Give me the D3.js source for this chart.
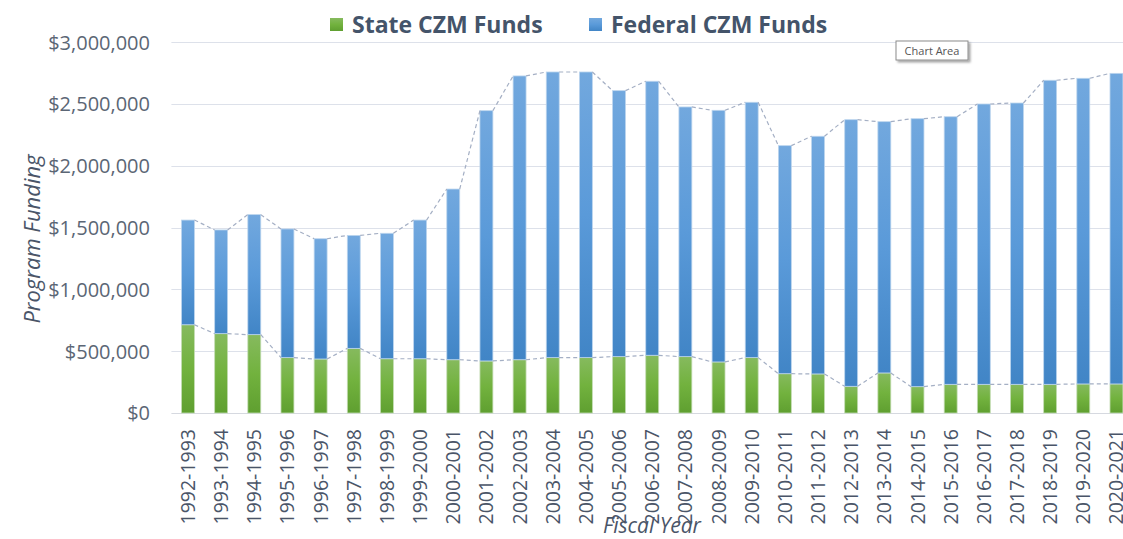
<!DOCTYPE html>
<html><head><meta charset="utf-8">
<script src="https://cdn.jsdelivr.net/npm/d3@7/dist/d3.min.js"></script>
<style>
html,body{margin:0;padding:0;background:#fff;}
svg{display:block;}
</style></head>
<body>
<svg id="chart" width="1123" height="539"></svg>
<script>
const years = ["1992-1993","1993-1994","1994-1995","1995-1996","1996-1997","1997-1998","1998-1999","1999-2000","2000-2001","2001-2002","2002-2003","2003-2004","2004-2005","2005-2006","2006-2007","2007-2008","2008-2009","2009-2010","2010-2011","2011-2012","2012-2013","2013-2014","2014-2015","2015-2016","2016-2017","2017-2018","2018-2019","2019-2020","2020-2021"];
const stateFunds = [714000,642000,634000,448000,437000,523000,439000,439000,431000,421000,431000,448000,448000,456000,467000,456000,413000,448000,318000,316000,216000,324000,213000,232000,232000,232000,232000,235000,235000];
const totalFunds = [1561000,1481000,1605000,1489000,1410000,1437000,1454000,1561000,1812000,2446000,2727000,2759000,2759000,2608000,2684000,2476000,2449000,2514000,2163000,2239000,2373000,2357000,2381000,2397000,2500000,2508000,2692000,2708000,2748000];
const federalFunds = totalFunds.map((t,i)=>t-stateFunds[i]);
const yTicks = [0,500000,1000000,1500000,2000000,2500000,3000000];
const seriesNames = ["State CZM Funds","Federal CZM Funds"];

const FONT = "'Open Sans', sans-serif";
const svg = d3.select("#chart");
const defs = svg.append("defs");
const gB = defs.append("linearGradient").attr("id","gBlue").attr("x1",0).attr("y1",0).attr("x2",0).attr("y2",1);
gB.append("stop").attr("offset","0%").attr("stop-color","#72a8de");
gB.append("stop").attr("offset","50%").attr("stop-color","#5a9ad9");
gB.append("stop").attr("offset","100%").attr("stop-color","#4185c6");
const gG = defs.append("linearGradient").attr("id","gGreen").attr("x1",0).attr("y1",0).attr("x2",0).attr("y2",1);
gG.append("stop").attr("offset","0%").attr("stop-color","#86ba5e");
gG.append("stop").attr("offset","50%").attr("stop-color","#72b23e");
gG.append("stop").attr("offset","100%").attr("stop-color","#5f9f30");
const sh = defs.append("filter").attr("id","shadow").attr("x","-20%").attr("y","-20%").attr("width","150%").attr("height","170%");
sh.append("feDropShadow").attr("dx",2).attr("dy",2).attr("stdDeviation",1.2).attr("flood-color","#000").attr("flood-opacity",0.35);

const left = 171.4, step = 33.16;
const x = d3.scaleBand().domain(years).range([left, left + step*years.length]).paddingInner(0.61).paddingOuter(0.305);
const y = d3.scaleLinear().domain([0,3000000]).range([413,42.2]);

// gridlines
svg.append("g").selectAll("line").data(yTicks).join("line")
  .attr("x1",left).attr("x2",1123)
  .attr("y1",d=>Math.round(y(d))+0.5).attr("y2",d=>Math.round(y(d))+0.5)
  .attr("stroke",d=>d===0?"#d6d9e0":"#dde1ea").attr("stroke-width",1);

// y tick labels
const yAxis = d3.axisLeft(y).tickValues(yTicks).tickSize(0).tickPadding(0)
  .tickFormat(d=>"$"+d3.format(",")(d));
const ya = svg.append("g").attr("transform","translate(150,0)").call(yAxis);
ya.select(".domain").remove();
ya.selectAll("text").attr("font-family",FONT).attr("font-size",20)
  .attr("fill","#5b6675").attr("dy","0.34em");

// bars
const bw = x.bandwidth();
svg.append("g").selectAll("rect").data(years).join("rect")
  .attr("x",d=>x(d)).attr("width",bw)
  .attr("y",(d,i)=>y(stateFunds[i])).attr("height",(d,i)=>y(0)-y(stateFunds[i]))
  .attr("fill","url(#gGreen)").attr("stroke","#c4dcb4").attr("stroke-width",0.8);
svg.append("g").selectAll("rect").data(years).join("rect")
  .attr("x",d=>x(d)).attr("width",bw)
  .attr("y",(d,i)=>y(totalFunds[i])).attr("height",(d,i)=>y(stateFunds[i])-y(totalFunds[i]))
  .attr("fill","url(#gBlue)").attr("stroke","#bcd5ee").attr("stroke-width",0.8);

// series lines
function seriesLines(vals){
  const segs=[];
  for(let i=0;i<years.length-1;i++){
    segs.push({x1:x(years[i])+bw, y1:y(vals[i]), x2:x(years[i+1]), y2:y(vals[i+1])});
  }
  svg.append("g").selectAll("line").data(segs).join("line")
    .attr("x1",d=>d.x1).attr("y1",d=>d.y1).attr("x2",d=>d.x2).attr("y2",d=>d.y2)
    .attr("stroke","#a4afc4").attr("stroke-width",1.2).attr("stroke-dasharray","4,3");
}
seriesLines(stateFunds);
seriesLines(totalFunds);

// x tick labels
const xa = svg.append("g").attr("transform","translate(0,429)")
  .call(d3.axisBottom(x).tickSize(0).tickPadding(0));
xa.select(".domain").remove();
xa.selectAll("text").attr("font-family",FONT).attr("font-size",19.5)
  .attr("fill","#4a5568").attr("text-anchor","end")
  .attr("transform","rotate(-90)")
  .attr("x",0).attr("y",0).attr("dx",0).attr("dy","0.36em");

// axis titles
svg.append("text").attr("x",652).attr("y",533).attr("text-anchor","middle")
  .attr("font-family",FONT).attr("font-style","italic").attr("font-size",21)
  .attr("fill","#4a5568").text("Fiscal Year");
svg.append("text").attr("transform","translate(40,239) rotate(-90)").attr("text-anchor","middle")
  .attr("font-family",FONT).attr("font-style","italic").attr("font-size",22)
  .attr("fill","#4a5568").text("Program Funding");

// legend
const legend = [{name:seriesNames[0], fill:"url(#gGreen)", x:330},{name:seriesNames[1], fill:"url(#gBlue)", x:589}];
const lg = svg.append("g").selectAll("g").data(legend).join("g").attr("transform",d=>`translate(${d.x},0)`);
lg.append("rect").attr("x",0).attr("y",18).attr("width",13).attr("height",13).attr("fill",d=>d.fill);
lg.append("text").attr("x",22).attr("y",33).attr("font-family",FONT).attr("font-weight",700)
  .attr("font-size",23).attr("fill","#44546a").text(d=>d.name);

// tooltip
const tip = svg.append("g").attr("transform","translate(896,41)");
tip.append("rect").attr("width",72).attr("height",19).attr("fill","#fff").attr("stroke","#8c8c8c").attr("stroke-width",1).attr("filter","url(#shadow)");
tip.append("text").attr("x",36).attr("y",13.5).attr("text-anchor","middle").attr("font-family",FONT)
  .attr("font-size",11).attr("fill","#555").text("Chart Area");
</script>
</body></html>
